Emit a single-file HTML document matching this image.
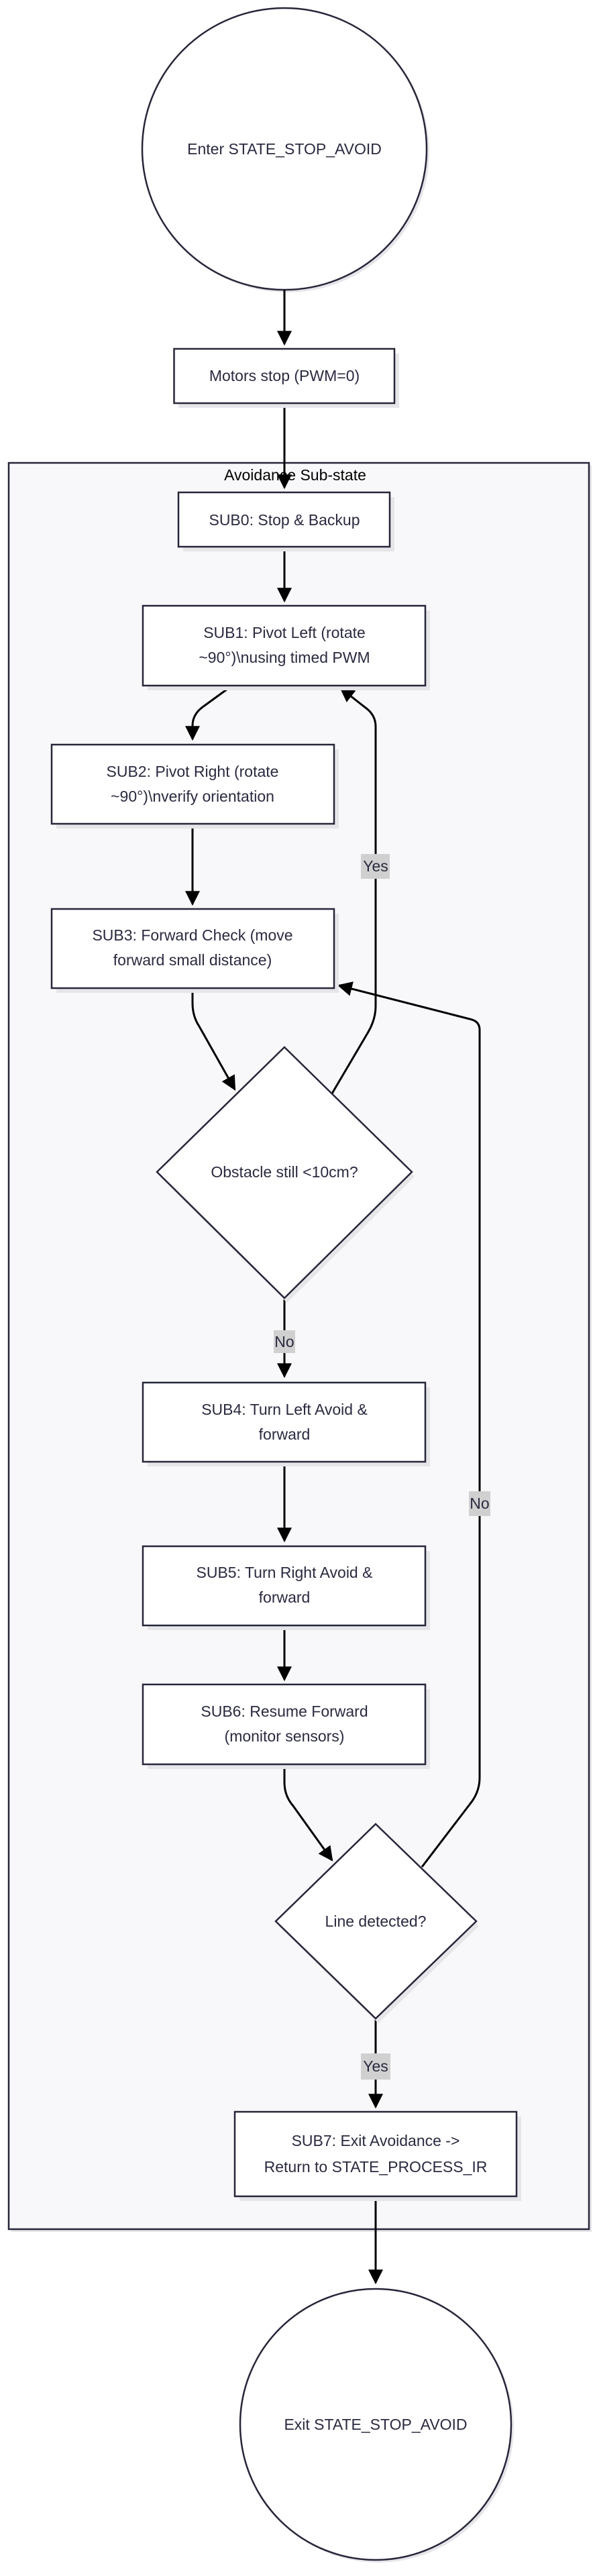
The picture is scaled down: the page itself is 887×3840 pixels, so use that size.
<!DOCTYPE html>
<html><head><meta charset="utf-8"><style>
html,body{margin:0;padding:0;background:#fff;}
svg{display:block;}
text{font-family:"Liberation Sans",sans-serif;font-size:23px;fill:#2a2a40;text-anchor:middle;dominant-baseline:central;}
.n{fill:#fff;stroke:#26263a;stroke-width:2.5;}
.sh{fill:#e6e6ea;}
.e{fill:none;stroke:#000;stroke-width:3;}
.lb{fill:#d0d0d0;}
</style></head><body>
<svg width="887" height="3840" viewBox="0 0 887 3840" xmlns="http://www.w3.org/2000/svg">
<defs>
<marker id="b" viewBox="0 0 10 10" refX="9" refY="5" markerWidth="22" markerHeight="22" orient="auto" markerUnits="userSpaceOnUse"><path d="M0,0 L10,5 L0,10 z" fill="#000"/></marker></defs>

<rect x="17" y="694" width="865" height="2633" class="sh"/>
<rect x="13" y="690" width="865" height="2633" fill="#f8f8fa" stroke="#26263a" stroke-width="2.5"/>
<text x="440" y="708" style="fill:#000">Avoidance Sub-state</text>

<ellipse cx="428" cy="226" rx="212" ry="210" class="sh"/>
<ellipse cx="424" cy="222" rx="212" ry="210" class="n"/>
<text x="424" y="222">Enter STATE_STOP_AVOID</text>

<path class="e" d="M424,432 V513" marker-end="url(#b)"/>
<path class="e" d="M424,601 V727" marker-end="url(#b)"/>
<path class="e" d="M424,815 V896" marker-end="url(#b)"/>
<path class="e" d="M346,1022 L302,1054 Q287,1065 287,1082 V1102" marker-end="url(#b)"/>
<path class="e" d="M287,1228 V1348" marker-end="url(#b)"/>
<path class="e" d="M287,1473 V1495 Q287,1515 297,1530 L350,1624" marker-end="url(#b)"/>
<path class="e" d="M495,1630 L548,1540 Q560,1520 560,1500 V1083 Q560,1066 545,1055 L508,1026" marker-end="url(#b)"/>
<path class="e" d="M629,2783 L700,2690 Q715,2672 715,2650 V1535 Q715,1522 700,1519 L505,1469" marker-end="url(#b)"/>
<path class="e" d="M424,1935 V2052" marker-end="url(#b)"/>
<path class="e" d="M424,2179 V2297" marker-end="url(#b)"/>
<path class="e" d="M424,2423 V2504" marker-end="url(#b)"/>
<path class="e" d="M424,2630 V2657 Q424,2677 437,2692 L495,2773" marker-end="url(#b)"/>
<path class="e" d="M560,3009 V3141" marker-end="url(#b)"/>
<path class="e" d="M560,3274 V3403" marker-end="url(#b)"/>

<rect x="538" y="1273" width="43" height="37" class="lb"/><text x="560" y="1291">Yes</text>
<rect x="408" y="1983" width="32" height="34" class="lb"/><text x="424" y="2000">No</text>
<rect x="699" y="2223" width="32" height="37" class="lb"/><text x="715" y="2241">No</text>
<rect x="538" y="3061" width="44" height="39" class="lb"/><text x="560" y="3080">Yes</text>

<rect x="266" y="527" width="329" height="81" class="sh"/><rect x="259.5" y="520" width="328.5" height="81" class="n"/><text x="424" y="560">Motors stop (PWM=0)</text>
<rect x="273" y="741" width="315" height="81" class="sh"/><rect x="266" y="734" width="315" height="81" class="n"/><text x="424" y="775">SUB0: Stop &amp; Backup</text>
<rect x="220" y="910" width="421" height="119" class="sh"/><rect x="213" y="903" width="421" height="119" class="n"/>
<text x="424" y="943">SUB1: Pivot Left (rotate</text><text x="424" y="980">~90°)\nusing timed PWM</text>
<rect x="84" y="1117" width="421" height="118" class="sh"/><rect x="77" y="1110" width="421" height="118" class="n"/>
<text x="287" y="1150">SUB2: Pivot Right (rotate</text><text x="287" y="1187">~90°)\nverify orientation</text>
<rect x="84" y="1362" width="421" height="118" class="sh"/><rect x="77" y="1355" width="421" height="118" class="n"/>
<text x="287" y="1394">SUB3: Forward Check (move</text><text x="287" y="1431">forward small distance)</text>
<polygon points="428,1568 618,1754 428,1942 238,1754" class="sh"/>
<polygon points="424,1561 614,1747 424,1935 234,1747" class="n"/><text x="424" y="1747">Obstacle still &lt;10cm?</text>
<rect x="220" y="2068" width="421" height="118" class="sh"/><rect x="213" y="2061" width="421" height="118" class="n"/>
<text x="424" y="2101">SUB4: Turn Left Avoid &amp;</text><text x="424" y="2138">forward</text>
<rect x="220" y="2312" width="421" height="118" class="sh"/><rect x="213" y="2305" width="421" height="118" class="n"/>
<text x="424" y="2344">SUB5: Turn Right Avoid &amp;</text><text x="424" y="2381">forward</text>
<rect x="220" y="2518" width="421" height="119" class="sh"/><rect x="213" y="2511" width="421" height="119" class="n"/>
<text x="424" y="2551">SUB6: Resume Forward</text><text x="424" y="2588">(monitor sensors)</text>
<polygon points="564,2726 714,2871 564,3016 415,2871" class="sh"/>
<polygon points="560,2719 710,2864 560,3009 411,2864" class="n"/>
<text x="560" y="2864">Line detected?</text>
<rect x="357" y="3155" width="420" height="126" class="sh"/><rect x="350" y="3148" width="420" height="126" class="n"/>
<text x="560" y="3191">SUB7: Exit Avoidance -&gt;</text><text x="560" y="3230">Return to STATE_PROCESS_IR</text>
<circle cx="564" cy="3618" r="202" class="sh"/>
<circle cx="560" cy="3614" r="202" class="n"/><text x="560" y="3614">Exit STATE_STOP_AVOID</text>
</svg>
</body></html>
